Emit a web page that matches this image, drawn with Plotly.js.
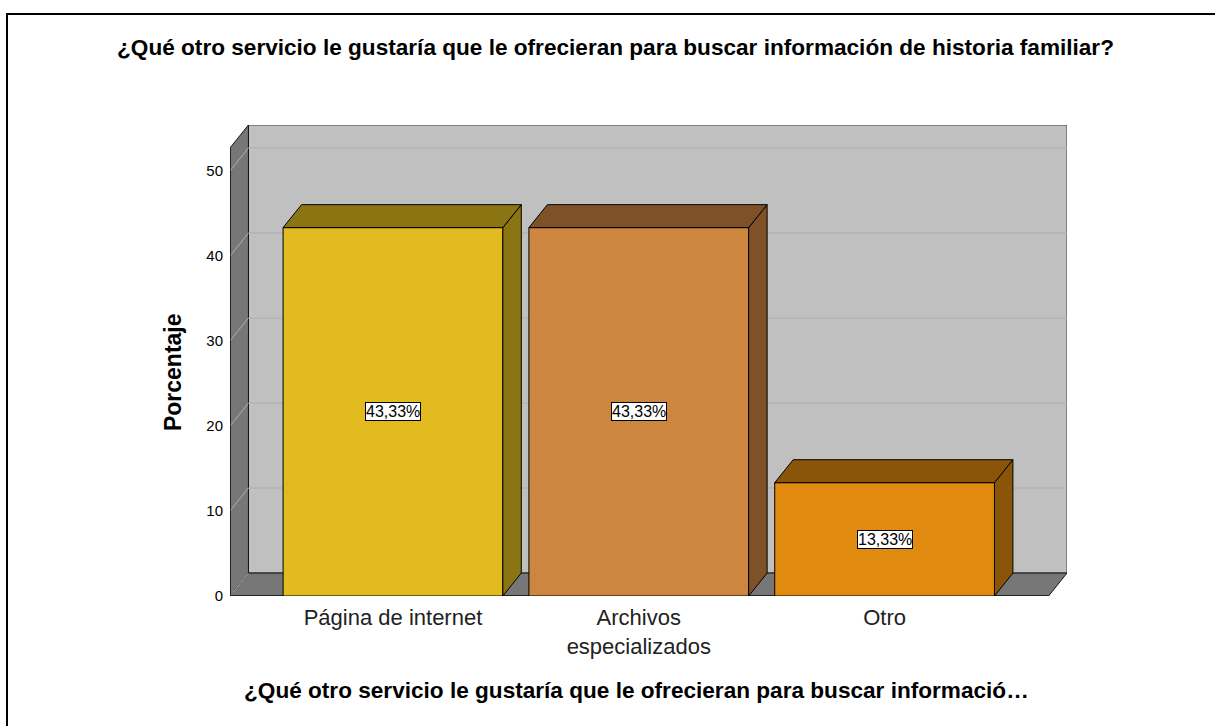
<!DOCTYPE html>
<html>
<head>
<meta charset="utf-8">
<script src="https://cdn.plot.ly/plotly-3.0.1.min.js"></script>
<style>
  html, body { margin: 0; padding: 0; background: #ffffff; overflow: hidden; }
  #chart { position: absolute; left: 0; top: 0; width: 1215px; height: 726px; }
  #frame { position: absolute; left: 6px; top: 13px; width: 1300px; height: 800px;
           border-left: 2px solid #000; border-top: 2px solid #000; pointer-events: none; }
</style>
</head>
<body>
<div id="chart"></div>
<div id="frame"></div>
<script>
// ---- data ----
const categories = ['Página de internet', 'Archivos<br>especializados', 'Otro'];
const percentages = [43.33, 43.33, 13.33];
const yTickValues = [0, 10, 20, 30, 40, 50];
const yTickLabels = ['0', '10', '20', '30', '40', '50'];

// ---- styles ----
const frontColors = ['#E1BB20', '#CC8640', '#E08A10'];
const shadeColors = ['#8B7412', '#7F5128', '#8A5409'];
const FONT = 'Liberation Sans, Arial, sans-serif';

// ---- 3D frame geometry (axis units) ----
const X_MIN = -0.663, X_MAX = 2.667;   // front plane extent
const DX = 0.075, DY = 2.7;            // depth offset
const Y_TOP = 52.7;                    // top of the wall (front)
const BAR_W = 0.894;

const xIdx = categories.map((c, i) => i);

const traces = [];

// front faces of the bars
traces.push({
  type: 'bar',
  x: xIdx,
  y: percentages,
  width: BAR_W,
  marker: { color: frontColors, line: { color: '#000', width: 1 } },
  hoverinfo: 'skip',
  showlegend: false
});

// side and top faces
percentages.forEach((v, i) => {
  const l = i - BAR_W / 2, r = i + BAR_W / 2;
  traces.push({
    type: 'scatter', mode: 'lines', fill: 'toself',
    x: [r, r, r + DX, r + DX, r],
    y: [0, v, v + DY, DY, 0],
    fillcolor: shadeColors[i], line: { color: '#000', width: 1 },
    hoverinfo: 'skip', showlegend: false
  });
  traces.push({
    type: 'scatter', mode: 'lines', fill: 'toself',
    x: [l, r, r + DX, l + DX, l],
    y: [v, v, v + DY, v + DY, v],
    fillcolor: shadeColors[i], line: { color: '#000', width: 1 },
    hoverinfo: 'skip', showlegend: false
  });
});

// walls (decorative frame) as shapes beneath traces
const shapes = [];
// back wall
shapes.push({ type: 'path', xref: 'x', yref: 'y', layer: 'below',
  path: `M${X_MIN + DX},${DY} L${X_MAX + DX},${DY} L${X_MAX + DX},${Y_TOP + DY} L${X_MIN + DX},${Y_TOP + DY} Z`,
  fillcolor: '#C0C0C0', line: { color: '#404040', width: 1 } });
// left wall
shapes.push({ type: 'path', xref: 'x', yref: 'y', layer: 'below',
  path: `M${X_MIN},0 L${X_MIN},${Y_TOP} L${X_MIN + DX},${Y_TOP + DY} L${X_MIN + DX},${DY} Z`,
  fillcolor: '#777777', line: { color: '#111', width: 1 } });
// floor
shapes.push({ type: 'path', xref: 'x', yref: 'y', layer: 'below',
  path: `M${X_MIN},0 L${X_MAX},0 L${X_MAX + DX},${DY} L${X_MIN + DX},${DY} Z`,
  fillcolor: '#777777', line: { color: '#111', width: 1 } });
// gridlines
yTickValues.forEach(v => {
  if (v > 0) {
    shapes.push({ type: 'line', xref: 'x', yref: 'y', layer: 'below',
      x0: X_MIN + DX, x1: X_MAX + DX, y0: v + DY, y1: v + DY,
      line: { color: '#ADADAD', width: 1 } });
  }
  shapes.push({ type: 'line', xref: 'x', yref: 'y', layer: 'below',
    x0: X_MIN, x1: X_MIN + DX, y0: v, y1: v + DY,
    line: { color: '#B0B0B0', width: 1 } });
});
// front edges
shapes.push({ type: 'line', xref: 'x', yref: 'y', layer: 'below',
  x0: X_MIN, x1: X_MAX, y0: 0, y1: 0, line: { color: '#000', width: 1 } });
shapes.push({ type: 'line', xref: 'x', yref: 'y', layer: 'below',
  x0: X_MIN, x1: X_MIN, y0: 0, y1: Y_TOP, line: { color: '#000', width: 1 } });

// value labels
const annotations = percentages.map((v, i) => ({
  x: i, y: v / 2, xref: 'x', yref: 'y',
  text: v.toFixed(2).replace('.', ',') + '%',
  showarrow: false,
  font: { family: FONT, size: 16, color: '#000' },
  bgcolor: '#ffffff', bordercolor: '#000', borderwidth: 1, borderpad: 0
}));

// axis titles
annotations.push({
  xref: 'paper', yref: 'paper', x: 0.486, y: -0.1996,
  xanchor: 'center', yanchor: 'middle', showarrow: false,
  text: '<b>¿Qué otro servicio le gustaría que le ofrecieran para buscar informació…</b>',
  font: { family: FONT, size: 22.6, color: '#000' }
});
annotations.push({
  xref: 'paper', yref: 'paper', x: -0.068, y: 0.4756,
  xanchor: 'center', yanchor: 'middle', showarrow: false, textangle: -90,
  text: '<b>Porcentaje</b>',
  font: { family: FONT, size: 23, color: '#000' }
});

const layout = {
  width: 1215, height: 726,
  margin: { l: 230, r: 148, t: 125, b: 130 },
  paper_bgcolor: '#ffffff', plot_bgcolor: 'rgba(0,0,0,0)',
  showlegend: false,
  title: {
    text: '<b>¿Qué otro servicio le gustaría que le ofrecieran para buscar información de historia familiar?</b>',
    xref: 'container', yref: 'container', x: 615.5 / 1215, y: 1 - 47 / 726,
    xanchor: 'center', yanchor: 'middle',
    font: { family: FONT, size: 22.6, color: '#000' }
  },
  xaxis: {
    range: [X_MIN, X_MAX + DX], showgrid: false, zeroline: false, showline: false,
    tickmode: 'array', tickvals: xIdx, ticktext: categories, ticks: '',
    ticklabelstandoff: 6,
    tickfont: { family: FONT, size: 22, color: '#222' }, fixedrange: true
  },
  yaxis: {
    range: [0, Y_TOP + DY], showgrid: false, zeroline: false, showline: false,
    tickmode: 'array', tickvals: yTickValues, ticktext: yTickLabels, ticks: '',
    ticklabelstandoff: 6,
    tickfont: { family: FONT, size: 15, color: '#000' }, fixedrange: true
  },
  shapes: shapes,
  annotations: annotations
};

Plotly.newPlot('chart', traces, layout, { staticPlot: true, displayModeBar: false });
</script>
</body>
</html>
